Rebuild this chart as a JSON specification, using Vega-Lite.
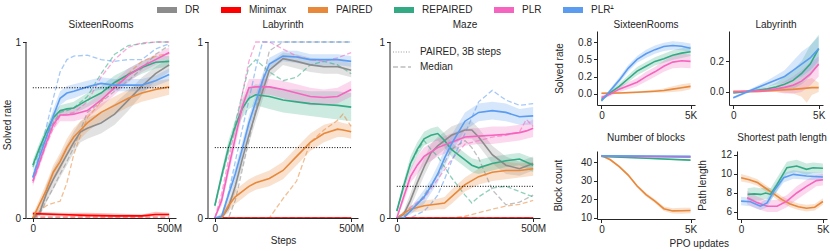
{
"$schema":"https://vega.github.io/schema/vega-lite/v6.json",
"padding":{"left":2,"top":0,"right":1,"bottom":1},
"config":{"font":"Liberation Sans","view":{"stroke":null},
 "axis":{"grid":false,"domainColor":"#262626","tickColor":"#262626","labelColor":"#262626","titleColor":"#262626","labelFontSize":10,"titleFontSize":10,"titleFontWeight":"normal","tickSize":3.5,"labelPadding":2,"titlePadding":3},
 "title":{"fontSize":10,"fontWeight":"normal","color":"#262626","anchor":"middle"},
 "legend":{"labelFontSize":10,"labelColor":"#262626","title":null,"labelFont":"Liberation Sans"}
},
"datasets":{
"rules":[{"p":"SR","PAIRED, 3B steps":0.74},{"p":"LAB","PAIRED, 3B steps":0.40},{"p":"MAZE","PAIRED, 3B steps":0.18}],
"main":[
{"p":"SR","m":"DR","x":0,"y":0,"lo":0,"hi":0.02,"Median":0},
{"p":"SR","m":"DR","x":25,"y":0.03,"lo":0.01,"hi":0.06,"Median":0.02},
{"p":"SR","m":"DR","x":50,"y":0.14,"lo":0.09,"hi":0.19,"Median":0.1},
{"p":"SR","m":"DR","x":75,"y":0.22,"lo":0.16,"hi":0.28,"Median":0.17},
{"p":"SR","m":"DR","x":100,"y":0.29,"lo":0.23,"hi":0.35,"Median":0.25},
{"p":"SR","m":"DR","x":125,"y":0.36,"lo":0.3,"hi":0.42,"Median":0.32},
{"p":"SR","m":"DR","x":150,"y":0.43,"lo":0.37,"hi":0.49,"Median":0.4},
{"p":"SR","m":"DR","x":175,"y":0.49,"lo":0.43,"hi":0.55,"Median":0.5},
{"p":"SR","m":"DR","x":200,"y":0.51,"lo":0.45,"hi":0.57,"Median":0.6},
{"p":"SR","m":"DR","x":250,"y":0.54,"lo":0.48,"hi":0.6,"Median":0.66},
{"p":"SR","m":"DR","x":300,"y":0.59,"lo":0.53,"hi":0.65,"Median":0.72},
{"p":"SR","m":"DR","x":350,"y":0.67,"lo":0.61,"hi":0.72,"Median":0.78},
{"p":"SR","m":"DR","x":400,"y":0.75,"lo":0.7,"hi":0.8,"Median":0.85},
{"p":"SR","m":"DR","x":450,"y":0.82,"lo":0.78,"hi":0.86,"Median":0.93},
{"p":"SR","m":"DR","x":500,"y":0.87,"lo":0.83,"hi":0.91,"Median":0.98},
{"p":"SR","m":"Minimax","x":0,"y":0.025,"lo":0.015,"hi":0.035,"Median":0.005},
{"p":"SR","m":"Minimax","x":100,"y":0.02,"lo":0.01,"hi":0.03,"Median":0.005},
{"p":"SR","m":"Minimax","x":200,"y":0.015,"lo":0.005,"hi":0.03,"Median":0.005},
{"p":"SR","m":"Minimax","x":300,"y":0.012,"lo":0.003,"hi":0.025,"Median":0.005},
{"p":"SR","m":"Minimax","x":400,"y":0.012,"lo":0.003,"hi":0.02,"Median":0.005},
{"p":"SR","m":"Minimax","x":450,"y":0.02,"lo":0.01,"hi":0.035,"Median":0.005},
{"p":"SR","m":"Minimax","x":500,"y":0.02,"lo":0.01,"hi":0.03,"Median":0.005},
{"p":"SR","m":"PAIRED","x":0,"y":0,"lo":0,"hi":0.02,"Median":0},
{"p":"SR","m":"PAIRED","x":25,"y":0.08,"lo":0.05,"hi":0.11,"Median":0.04},
{"p":"SR","m":"PAIRED","x":50,"y":0.16,"lo":0.12,"hi":0.2,"Median":0.07},
{"p":"SR","m":"PAIRED","x":75,"y":0.26,"lo":0.21,"hi":0.3,"Median":0.085},
{"p":"SR","m":"PAIRED","x":100,"y":0.32,"lo":0.27,"hi":0.37,"Median":0.095},
{"p":"SR","m":"PAIRED","x":125,"y":0.4,"lo":0.35,"hi":0.45,"Median":0.2},
{"p":"SR","m":"PAIRED","x":150,"y":0.46,"lo":0.41,"hi":0.51,"Median":0.36},
{"p":"SR","m":"PAIRED","x":175,"y":0.5,"lo":0.45,"hi":0.55,"Median":0.47},
{"p":"SR","m":"PAIRED","x":200,"y":0.54,"lo":0.49,"hi":0.59,"Median":0.57},
{"p":"SR","m":"PAIRED","x":250,"y":0.6,"lo":0.55,"hi":0.65,"Median":0.66},
{"p":"SR","m":"PAIRED","x":300,"y":0.64,"lo":0.59,"hi":0.69,"Median":0.75},
{"p":"SR","m":"PAIRED","x":350,"y":0.68,"lo":0.63,"hi":0.73,"Median":0.82},
{"p":"SR","m":"PAIRED","x":400,"y":0.71,"lo":0.66,"hi":0.76,"Median":0.89},
{"p":"SR","m":"PAIRED","x":450,"y":0.73,"lo":0.68,"hi":0.78,"Median":0.92},
{"p":"SR","m":"PAIRED","x":500,"y":0.745,"lo":0.7,"hi":0.79,"Median":0.935},
{"p":"SR","m":"REPAIRED","x":0,"y":0.3,"lo":0.27,"hi":0.33,"Median":0.29},
{"p":"SR","m":"REPAIRED","x":25,"y":0.4,"lo":0.37,"hi":0.43,"Median":0.38},
{"p":"SR","m":"REPAIRED","x":50,"y":0.49,"lo":0.46,"hi":0.52,"Median":0.46},
{"p":"SR","m":"REPAIRED","x":75,"y":0.57,"lo":0.54,"hi":0.6,"Median":0.54},
{"p":"SR","m":"REPAIRED","x":100,"y":0.61,"lo":0.58,"hi":0.64,"Median":0.6},
{"p":"SR","m":"REPAIRED","x":125,"y":0.62,"lo":0.59,"hi":0.65,"Median":0.61},
{"p":"SR","m":"REPAIRED","x":150,"y":0.625,"lo":0.59,"hi":0.66,"Median":0.625},
{"p":"SR","m":"REPAIRED","x":200,"y":0.67,"lo":0.63,"hi":0.71,"Median":0.69},
{"p":"SR","m":"REPAIRED","x":250,"y":0.71,"lo":0.67,"hi":0.75,"Median":0.82},
{"p":"SR","m":"REPAIRED","x":300,"y":0.77,"lo":0.73,"hi":0.81,"Median":0.93},
{"p":"SR","m":"REPAIRED","x":350,"y":0.815,"lo":0.78,"hi":0.85,"Median":0.98},
{"p":"SR","m":"REPAIRED","x":400,"y":0.855,"lo":0.82,"hi":0.89,"Median":0.99},
{"p":"SR","m":"REPAIRED","x":450,"y":0.885,"lo":0.85,"hi":0.92,"Median":1},
{"p":"SR","m":"REPAIRED","x":500,"y":0.89,"lo":0.86,"hi":0.92,"Median":1},
{"p":"SR","m":"PLR","x":0,"y":0.21,"lo":0.18,"hi":0.24,"Median":0.2},
{"p":"SR","m":"PLR","x":25,"y":0.32,"lo":0.29,"hi":0.35,"Median":0.31},
{"p":"SR","m":"PLR","x":50,"y":0.43,"lo":0.4,"hi":0.46,"Median":0.42},
{"p":"SR","m":"PLR","x":75,"y":0.53,"lo":0.5,"hi":0.56,"Median":0.51},
{"p":"SR","m":"PLR","x":100,"y":0.585,"lo":0.55,"hi":0.62,"Median":0.58},
{"p":"SR","m":"PLR","x":125,"y":0.585,"lo":0.55,"hi":0.62,"Median":0.59},
{"p":"SR","m":"PLR","x":150,"y":0.59,"lo":0.55,"hi":0.63,"Median":0.6},
{"p":"SR","m":"PLR","x":200,"y":0.61,"lo":0.57,"hi":0.65,"Median":0.66},
{"p":"SR","m":"PLR","x":250,"y":0.67,"lo":0.63,"hi":0.71,"Median":0.8},
{"p":"SR","m":"PLR","x":300,"y":0.74,"lo":0.7,"hi":0.78,"Median":0.9},
{"p":"SR","m":"PLR","x":350,"y":0.81,"lo":0.77,"hi":0.85,"Median":0.97},
{"p":"SR","m":"PLR","x":400,"y":0.86,"lo":0.83,"hi":0.89,"Median":0.995},
{"p":"SR","m":"PLR","x":450,"y":0.9,"lo":0.87,"hi":0.93,"Median":1},
{"p":"SR","m":"PLR","x":500,"y":0.94,"lo":0.91,"hi":0.97,"Median":1},
{"p":"SR","m":"PLRᗮ","x":0,"y":0.23,"lo":0.2,"hi":0.26,"Median":0.23},
{"p":"SR","m":"PLRᗮ","x":25,"y":0.35,"lo":0.32,"hi":0.38,"Median":0.37},
{"p":"SR","m":"PLRᗮ","x":50,"y":0.46,"lo":0.43,"hi":0.5,"Median":0.52},
{"p":"SR","m":"PLRᗮ","x":75,"y":0.58,"lo":0.54,"hi":0.62,"Median":0.68},
{"p":"SR","m":"PLRᗮ","x":100,"y":0.68,"lo":0.64,"hi":0.72,"Median":0.83},
{"p":"SR","m":"PLRᗮ","x":125,"y":0.71,"lo":0.67,"hi":0.75,"Median":0.9},
{"p":"SR","m":"PLRᗮ","x":150,"y":0.72,"lo":0.68,"hi":0.76,"Median":0.92},
{"p":"SR","m":"PLRᗮ","x":200,"y":0.745,"lo":0.71,"hi":0.78,"Median":0.925},
{"p":"SR","m":"PLRᗮ","x":250,"y":0.765,"lo":0.73,"hi":0.8,"Median":0.9},
{"p":"SR","m":"PLRᗮ","x":300,"y":0.755,"lo":0.72,"hi":0.79,"Median":0.89},
{"p":"SR","m":"PLRᗮ","x":350,"y":0.755,"lo":0.72,"hi":0.79,"Median":0.9},
{"p":"SR","m":"PLRᗮ","x":400,"y":0.755,"lo":0.72,"hi":0.79,"Median":0.9},
{"p":"SR","m":"PLRᗮ","x":450,"y":0.78,"lo":0.75,"hi":0.81,"Median":0.96},
{"p":"SR","m":"PLRᗮ","x":500,"y":0.815,"lo":0.78,"hi":0.85,"Median":0.99},
{"p":"LAB","m":"DR","x":0,"y":0,"lo":0,"hi":0,"Median":0},
{"p":"LAB","m":"DR","x":25,"y":0,"lo":0,"hi":0.01,"Median":0},
{"p":"LAB","m":"DR","x":50,"y":0.06,"lo":0.03,"hi":0.09,"Median":0},
{"p":"LAB","m":"DR","x":75,"y":0.18,"lo":0.14,"hi":0.22,"Median":0.1},
{"p":"LAB","m":"DR","x":100,"y":0.33,"lo":0.28,"hi":0.38,"Median":0.27},
{"p":"LAB","m":"DR","x":125,"y":0.47,"lo":0.42,"hi":0.52,"Median":0.44},
{"p":"LAB","m":"DR","x":150,"y":0.6,"lo":0.55,"hi":0.65,"Median":0.61},
{"p":"LAB","m":"DR","x":175,"y":0.72,"lo":0.67,"hi":0.77,"Median":0.78},
{"p":"LAB","m":"DR","x":200,"y":0.84,"lo":0.8,"hi":0.88,"Median":0.95},
{"p":"LAB","m":"DR","x":250,"y":0.905,"lo":0.87,"hi":0.94,"Median":1},
{"p":"LAB","m":"DR","x":300,"y":0.89,"lo":0.85,"hi":0.93,"Median":1},
{"p":"LAB","m":"DR","x":350,"y":0.87,"lo":0.83,"hi":0.91,"Median":1},
{"p":"LAB","m":"DR","x":400,"y":0.86,"lo":0.82,"hi":0.9,"Median":1},
{"p":"LAB","m":"DR","x":450,"y":0.86,"lo":0.82,"hi":0.9,"Median":1},
{"p":"LAB","m":"DR","x":500,"y":0.84,"lo":0.8,"hi":0.88,"Median":1},
{"p":"LAB","m":"Minimax","x":0,"y":0,"lo":0,"hi":0.004,"Median":0},
{"p":"LAB","m":"Minimax","x":500,"y":0,"lo":0,"hi":0.004,"Median":0},
{"p":"LAB","m":"PAIRED","x":0,"y":0,"lo":0,"hi":0,"Median":0},
{"p":"LAB","m":"PAIRED","x":25,"y":0,"lo":0,"hi":0.02,"Median":0},
{"p":"LAB","m":"PAIRED","x":50,"y":0.07,"lo":0.04,"hi":0.1,"Median":0},
{"p":"LAB","m":"PAIRED","x":75,"y":0.12,"lo":0.08,"hi":0.16,"Median":0},
{"p":"LAB","m":"PAIRED","x":100,"y":0.15,"lo":0.11,"hi":0.19,"Median":0},
{"p":"LAB","m":"PAIRED","x":125,"y":0.18,"lo":0.14,"hi":0.22,"Median":0},
{"p":"LAB","m":"PAIRED","x":150,"y":0.2,"lo":0.16,"hi":0.24,"Median":0},
{"p":"LAB","m":"PAIRED","x":200,"y":0.225,"lo":0.18,"hi":0.27,"Median":0},
{"p":"LAB","m":"PAIRED","x":250,"y":0.27,"lo":0.22,"hi":0.32,"Median":0.11},
{"p":"LAB","m":"PAIRED","x":300,"y":0.35,"lo":0.3,"hi":0.4,"Median":0.21},
{"p":"LAB","m":"PAIRED","x":350,"y":0.43,"lo":0.38,"hi":0.48,"Median":0.43},
{"p":"LAB","m":"PAIRED","x":400,"y":0.48,"lo":0.43,"hi":0.53,"Median":0.5},
{"p":"LAB","m":"PAIRED","x":450,"y":0.505,"lo":0.46,"hi":0.55,"Median":0.555},
{"p":"LAB","m":"PAIRED","x":470,"y":0.5,"lo":0.46,"hi":0.54,"Median":0.59},
{"p":"LAB","m":"PAIRED","x":500,"y":0.49,"lo":0.45,"hi":0.53,"Median":0.52},
{"p":"LAB","m":"REPAIRED","x":0,"y":0.07,"lo":0.05,"hi":0.09,"Median":0.07},
{"p":"LAB","m":"REPAIRED","x":25,"y":0.24,"lo":0.21,"hi":0.27,"Median":0.23},
{"p":"LAB","m":"REPAIRED","x":50,"y":0.4,"lo":0.36,"hi":0.44,"Median":0.38},
{"p":"LAB","m":"REPAIRED","x":75,"y":0.52,"lo":0.48,"hi":0.56,"Median":0.54},
{"p":"LAB","m":"REPAIRED","x":100,"y":0.62,"lo":0.57,"hi":0.67,"Median":0.7},
{"p":"LAB","m":"REPAIRED","x":125,"y":0.68,"lo":0.62,"hi":0.74,"Median":0.86},
{"p":"LAB","m":"REPAIRED","x":150,"y":0.7,"lo":0.64,"hi":0.76,"Median":0.9},
{"p":"LAB","m":"REPAIRED","x":200,"y":0.69,"lo":0.62,"hi":0.75,"Median":0.83},
{"p":"LAB","m":"REPAIRED","x":250,"y":0.67,"lo":0.6,"hi":0.73,"Median":0.78},
{"p":"LAB","m":"REPAIRED","x":300,"y":0.66,"lo":0.59,"hi":0.73,"Median":0.8},
{"p":"LAB","m":"REPAIRED","x":350,"y":0.65,"lo":0.58,"hi":0.72,"Median":0.87},
{"p":"LAB","m":"REPAIRED","x":400,"y":0.645,"lo":0.57,"hi":0.72,"Median":0.89},
{"p":"LAB","m":"REPAIRED","x":450,"y":0.64,"lo":0.56,"hi":0.72,"Median":0.87},
{"p":"LAB","m":"REPAIRED","x":500,"y":0.63,"lo":0.55,"hi":0.71,"Median":0.82},
{"p":"LAB","m":"PLR","x":0,"y":0,"lo":0,"hi":0,"Median":0},
{"p":"LAB","m":"PLR","x":25,"y":0.1,"lo":0.07,"hi":0.13,"Median":0.14},
{"p":"LAB","m":"PLR","x":50,"y":0.28,"lo":0.24,"hi":0.32,"Median":0.33},
{"p":"LAB","m":"PLR","x":75,"y":0.455,"lo":0.41,"hi":0.5,"Median":0.51},
{"p":"LAB","m":"PLR","x":100,"y":0.63,"lo":0.58,"hi":0.68,"Median":0.7},
{"p":"LAB","m":"PLR","x":125,"y":0.74,"lo":0.69,"hi":0.79,"Median":0.89},
{"p":"LAB","m":"PLR","x":150,"y":0.745,"lo":0.7,"hi":0.79,"Median":1},
{"p":"LAB","m":"PLR","x":200,"y":0.745,"lo":0.7,"hi":0.79,"Median":1},
{"p":"LAB","m":"PLR","x":250,"y":0.73,"lo":0.68,"hi":0.78,"Median":0.96},
{"p":"LAB","m":"PLR","x":300,"y":0.71,"lo":0.66,"hi":0.76,"Median":0.92},
{"p":"LAB","m":"PLR","x":350,"y":0.69,"lo":0.64,"hi":0.74,"Median":0.9},
{"p":"LAB","m":"PLR","x":400,"y":0.685,"lo":0.64,"hi":0.73,"Median":0.89},
{"p":"LAB","m":"PLR","x":450,"y":0.69,"lo":0.65,"hi":0.74,"Median":0.91},
{"p":"LAB","m":"PLR","x":500,"y":0.73,"lo":0.69,"hi":0.78,"Median":0.94},
{"p":"LAB","m":"PLRᗮ","x":0,"y":0,"lo":0,"hi":0,"Median":0},
{"p":"LAB","m":"PLRᗮ","x":25,"y":0.01,"lo":0,"hi":0.03,"Median":0},
{"p":"LAB","m":"PLRᗮ","x":50,"y":0.13,"lo":0.1,"hi":0.16,"Median":0.14},
{"p":"LAB","m":"PLRᗮ","x":75,"y":0.25,"lo":0.21,"hi":0.29,"Median":0.32},
{"p":"LAB","m":"PLRᗮ","x":100,"y":0.39,"lo":0.35,"hi":0.43,"Median":0.5},
{"p":"LAB","m":"PLRᗮ","x":125,"y":0.54,"lo":0.5,"hi":0.58,"Median":0.67},
{"p":"LAB","m":"PLRᗮ","x":150,"y":0.66,"lo":0.62,"hi":0.7,"Median":0.85},
{"p":"LAB","m":"PLRᗮ","x":175,"y":0.78,"lo":0.74,"hi":0.82,"Median":1},
{"p":"LAB","m":"PLRᗮ","x":200,"y":0.875,"lo":0.84,"hi":0.91,"Median":1},
{"p":"LAB","m":"PLRᗮ","x":250,"y":0.92,"lo":0.89,"hi":0.95,"Median":1},
{"p":"LAB","m":"PLRᗮ","x":300,"y":0.915,"lo":0.88,"hi":0.95,"Median":1},
{"p":"LAB","m":"PLRᗮ","x":350,"y":0.9,"lo":0.87,"hi":0.93,"Median":1},
{"p":"LAB","m":"PLRᗮ","x":400,"y":0.9,"lo":0.87,"hi":0.93,"Median":1},
{"p":"LAB","m":"PLRᗮ","x":450,"y":0.9,"lo":0.87,"hi":0.93,"Median":1},
{"p":"LAB","m":"PLRᗮ","x":500,"y":0.89,"lo":0.86,"hi":0.92,"Median":1},
{"p":"MAZE","m":"DR","x":0,"y":0,"lo":0,"hi":0,"Median":0},
{"p":"MAZE","m":"DR","x":25,"y":0.02,"lo":0,"hi":0.04,"Median":0.01},
{"p":"MAZE","m":"DR","x":50,"y":0.1,"lo":0.06,"hi":0.14,"Median":0.04},
{"p":"MAZE","m":"DR","x":75,"y":0.2,"lo":0.15,"hi":0.25,"Median":0.08},
{"p":"MAZE","m":"DR","x":100,"y":0.29,"lo":0.24,"hi":0.34,"Median":0.13},
{"p":"MAZE","m":"DR","x":125,"y":0.37,"lo":0.32,"hi":0.42,"Median":0.19},
{"p":"MAZE","m":"DR","x":150,"y":0.41,"lo":0.36,"hi":0.46,"Median":0.24},
{"p":"MAZE","m":"DR","x":200,"y":0.47,"lo":0.42,"hi":0.52,"Median":0.39},
{"p":"MAZE","m":"DR","x":250,"y":0.5,"lo":0.45,"hi":0.55,"Median":0.44},
{"p":"MAZE","m":"DR","x":275,"y":0.5,"lo":0.45,"hi":0.55,"Median":0.4},
{"p":"MAZE","m":"DR","x":300,"y":0.46,"lo":0.41,"hi":0.51,"Median":0.34},
{"p":"MAZE","m":"DR","x":350,"y":0.36,"lo":0.31,"hi":0.41,"Median":0.16},
{"p":"MAZE","m":"DR","x":400,"y":0.3,"lo":0.25,"hi":0.35,"Median":0.075},
{"p":"MAZE","m":"DR","x":450,"y":0.28,"lo":0.24,"hi":0.32,"Median":0.09},
{"p":"MAZE","m":"DR","x":500,"y":0.31,"lo":0.27,"hi":0.35,"Median":0.13},
{"p":"MAZE","m":"Minimax","x":0,"y":0,"lo":0,"hi":0.004,"Median":0},
{"p":"MAZE","m":"Minimax","x":500,"y":0,"lo":0,"hi":0.004,"Median":0},
{"p":"MAZE","m":"PAIRED","x":0,"y":0,"lo":0,"hi":0,"Median":0},
{"p":"MAZE","m":"PAIRED","x":50,"y":0.05,"lo":0.03,"hi":0.07,"Median":0},
{"p":"MAZE","m":"PAIRED","x":100,"y":0.07,"lo":0.04,"hi":0.1,"Median":0},
{"p":"MAZE","m":"PAIRED","x":150,"y":0.08,"lo":0.05,"hi":0.11,"Median":0},
{"p":"MAZE","m":"PAIRED","x":175,"y":0.085,"lo":0.05,"hi":0.12,"Median":0},
{"p":"MAZE","m":"PAIRED","x":200,"y":0.12,"lo":0.08,"hi":0.16,"Median":0},
{"p":"MAZE","m":"PAIRED","x":250,"y":0.19,"lo":0.15,"hi":0.23,"Median":0.01},
{"p":"MAZE","m":"PAIRED","x":300,"y":0.235,"lo":0.19,"hi":0.28,"Median":0.03},
{"p":"MAZE","m":"PAIRED","x":350,"y":0.26,"lo":0.21,"hi":0.31,"Median":0.05},
{"p":"MAZE","m":"PAIRED","x":400,"y":0.27,"lo":0.22,"hi":0.32,"Median":0.068},
{"p":"MAZE","m":"PAIRED","x":450,"y":0.27,"lo":0.23,"hi":0.31,"Median":0.078},
{"p":"MAZE","m":"PAIRED","x":500,"y":0.28,"lo":0.24,"hi":0.32,"Median":0.1},
{"p":"MAZE","m":"REPAIRED","x":0,"y":0.04,"lo":0.02,"hi":0.06,"Median":0.04},
{"p":"MAZE","m":"REPAIRED","x":25,"y":0.18,"lo":0.15,"hi":0.21,"Median":0.18},
{"p":"MAZE","m":"REPAIRED","x":50,"y":0.31,"lo":0.27,"hi":0.35,"Median":0.31},
{"p":"MAZE","m":"REPAIRED","x":75,"y":0.39,"lo":0.35,"hi":0.43,"Median":0.38},
{"p":"MAZE","m":"REPAIRED","x":100,"y":0.45,"lo":0.41,"hi":0.49,"Median":0.44},
{"p":"MAZE","m":"REPAIRED","x":125,"y":0.47,"lo":0.43,"hi":0.51,"Median":0.39},
{"p":"MAZE","m":"REPAIRED","x":150,"y":0.48,"lo":0.44,"hi":0.52,"Median":0.35},
{"p":"MAZE","m":"REPAIRED","x":175,"y":0.44,"lo":0.4,"hi":0.48,"Median":0.29},
{"p":"MAZE","m":"REPAIRED","x":200,"y":0.39,"lo":0.35,"hi":0.43,"Median":0.23},
{"p":"MAZE","m":"REPAIRED","x":250,"y":0.33,"lo":0.29,"hi":0.37,"Median":0.13},
{"p":"MAZE","m":"REPAIRED","x":275,"y":0.3,"lo":0.26,"hi":0.34,"Median":0.085},
{"p":"MAZE","m":"REPAIRED","x":300,"y":0.285,"lo":0.25,"hi":0.33,"Median":0.12},
{"p":"MAZE","m":"REPAIRED","x":350,"y":0.31,"lo":0.27,"hi":0.35,"Median":0.17},
{"p":"MAZE","m":"REPAIRED","x":400,"y":0.325,"lo":0.29,"hi":0.36,"Median":0.18},
{"p":"MAZE","m":"REPAIRED","x":450,"y":0.335,"lo":0.3,"hi":0.37,"Median":0.15},
{"p":"MAZE","m":"REPAIRED","x":500,"y":0.3,"lo":0.26,"hi":0.34,"Median":0.12},
{"p":"MAZE","m":"PLR","x":0,"y":0,"lo":0,"hi":0,"Median":0},
{"p":"MAZE","m":"PLR","x":25,"y":0.12,"lo":0.09,"hi":0.15,"Median":0.03},
{"p":"MAZE","m":"PLR","x":50,"y":0.235,"lo":0.2,"hi":0.28,"Median":0.06},
{"p":"MAZE","m":"PLR","x":75,"y":0.3,"lo":0.25,"hi":0.35,"Median":0.09},
{"p":"MAZE","m":"PLR","x":100,"y":0.35,"lo":0.3,"hi":0.4,"Median":0.11},
{"p":"MAZE","m":"PLR","x":150,"y":0.4,"lo":0.35,"hi":0.45,"Median":0.22},
{"p":"MAZE","m":"PLR","x":200,"y":0.43,"lo":0.38,"hi":0.48,"Median":0.33},
{"p":"MAZE","m":"PLR","x":250,"y":0.46,"lo":0.41,"hi":0.51,"Median":0.42},
{"p":"MAZE","m":"PLR","x":300,"y":0.465,"lo":0.42,"hi":0.51,"Median":0.44},
{"p":"MAZE","m":"PLR","x":350,"y":0.47,"lo":0.42,"hi":0.52,"Median":0.46},
{"p":"MAZE","m":"PLR","x":400,"y":0.475,"lo":0.43,"hi":0.52,"Median":0.47},
{"p":"MAZE","m":"PLR","x":450,"y":0.485,"lo":0.44,"hi":0.53,"Median":0.49},
{"p":"MAZE","m":"PLR","x":475,"y":0.495,"lo":0.45,"hi":0.54,"Median":0.56},
{"p":"MAZE","m":"PLR","x":500,"y":0.51,"lo":0.46,"hi":0.56,"Median":0.52},
{"p":"MAZE","m":"PLRᗮ","x":0,"y":0,"lo":0,"hi":0,"Median":0},
{"p":"MAZE","m":"PLRᗮ","x":25,"y":0,"lo":0,"hi":0.01,"Median":0},
{"p":"MAZE","m":"PLRᗮ","x":50,"y":0.04,"lo":0.02,"hi":0.06,"Median":0},
{"p":"MAZE","m":"PLRᗮ","x":75,"y":0.08,"lo":0.05,"hi":0.11,"Median":0.02},
{"p":"MAZE","m":"PLRᗮ","x":100,"y":0.12,"lo":0.08,"hi":0.16,"Median":0.04},
{"p":"MAZE","m":"PLRᗮ","x":125,"y":0.18,"lo":0.14,"hi":0.22,"Median":0.08},
{"p":"MAZE","m":"PLRᗮ","x":150,"y":0.25,"lo":0.2,"hi":0.3,"Median":0.13},
{"p":"MAZE","m":"PLRᗮ","x":175,"y":0.34,"lo":0.29,"hi":0.39,"Median":0.22},
{"p":"MAZE","m":"PLRᗮ","x":200,"y":0.42,"lo":0.37,"hi":0.47,"Median":0.32},
{"p":"MAZE","m":"PLRᗮ","x":250,"y":0.55,"lo":0.5,"hi":0.6,"Median":0.48},
{"p":"MAZE","m":"PLRᗮ","x":300,"y":0.6,"lo":0.55,"hi":0.65,"Median":0.66},
{"p":"MAZE","m":"PLRᗮ","x":350,"y":0.61,"lo":0.56,"hi":0.66,"Median":0.725},
{"p":"MAZE","m":"PLRᗮ","x":400,"y":0.6,"lo":0.55,"hi":0.65,"Median":0.67},
{"p":"MAZE","m":"PLRᗮ","x":450,"y":0.575,"lo":0.53,"hi":0.62,"Median":0.64},
{"p":"MAZE","m":"PLRᗮ","x":500,"y":0.58,"lo":0.53,"hi":0.63,"Median":0.65},
{"p":"sSR","m":"PAIRED","x":0,"y":0.01,"lo":0,"hi":0.02},
{"p":"sSR","m":"PAIRED","x":1,"y":0.015,"lo":0,"hi":0.03},
{"p":"sSR","m":"PAIRED","x":2,"y":0.025,"lo":0.01,"hi":0.04},
{"p":"sSR","m":"PAIRED","x":3,"y":0.04,"lo":0.02,"hi":0.06},
{"p":"sSR","m":"PAIRED","x":3.5,"y":0.05,"lo":0.02,"hi":0.08},
{"p":"sSR","m":"PAIRED","x":4,"y":0.07,"lo":0.03,"hi":0.11},
{"p":"sSR","m":"PAIRED","x":4.5,"y":0.09,"lo":0.04,"hi":0.14},
{"p":"sSR","m":"PAIRED","x":5,"y":0.11,"lo":0.07,"hi":0.16},
{"p":"sSR","m":"REPAIRED","x":0,"y":-0.08,"lo":-0.1,"hi":-0.06},
{"p":"sSR","m":"REPAIRED","x":0.5,"y":0.02,"lo":-0.01,"hi":0.05},
{"p":"sSR","m":"REPAIRED","x":1,"y":0.11,"lo":0.07,"hi":0.15},
{"p":"sSR","m":"REPAIRED","x":1.5,"y":0.22,"lo":0.17,"hi":0.27},
{"p":"sSR","m":"REPAIRED","x":2,"y":0.33,"lo":0.27,"hi":0.39},
{"p":"sSR","m":"REPAIRED","x":2.5,"y":0.4,"lo":0.34,"hi":0.46},
{"p":"sSR","m":"REPAIRED","x":3,"y":0.47,"lo":0.41,"hi":0.53},
{"p":"sSR","m":"REPAIRED","x":3.5,"y":0.51,"lo":0.45,"hi":0.58},
{"p":"sSR","m":"REPAIRED","x":4,"y":0.56,"lo":0.49,"hi":0.63},
{"p":"sSR","m":"REPAIRED","x":4.5,"y":0.59,"lo":0.52,"hi":0.66},
{"p":"sSR","m":"REPAIRED","x":5,"y":0.61,"lo":0.55,"hi":0.69},
{"p":"sSR","m":"PLR","x":0,"y":-0.05,"lo":-0.08,"hi":-0.02},
{"p":"sSR","m":"PLR","x":0.5,"y":0,"lo":-0.03,"hi":0.03},
{"p":"sSR","m":"PLR","x":1,"y":0.07,"lo":0.03,"hi":0.11},
{"p":"sSR","m":"PLR","x":1.5,"y":0.12,"lo":0.07,"hi":0.17},
{"p":"sSR","m":"PLR","x":2,"y":0.17,"lo":0.11,"hi":0.23},
{"p":"sSR","m":"PLR","x":2.5,"y":0.25,"lo":0.18,"hi":0.32},
{"p":"sSR","m":"PLR","x":3,"y":0.32,"lo":0.25,"hi":0.39},
{"p":"sSR","m":"PLR","x":3.5,"y":0.4,"lo":0.32,"hi":0.48},
{"p":"sSR","m":"PLR","x":4,"y":0.46,"lo":0.37,"hi":0.55},
{"p":"sSR","m":"PLR","x":4.5,"y":0.48,"lo":0.38,"hi":0.58},
{"p":"sSR","m":"PLR","x":5,"y":0.47,"lo":0.37,"hi":0.57},
{"p":"sSR","m":"PLRᗮ","x":0,"y":-0.1,"lo":-0.12,"hi":-0.08},
{"p":"sSR","m":"PLRᗮ","x":0.5,"y":0.05,"lo":0.02,"hi":0.08},
{"p":"sSR","m":"PLRᗮ","x":1,"y":0.2,"lo":0.16,"hi":0.24},
{"p":"sSR","m":"PLRᗮ","x":1.5,"y":0.37,"lo":0.32,"hi":0.42},
{"p":"sSR","m":"PLRᗮ","x":2,"y":0.5,"lo":0.45,"hi":0.55},
{"p":"sSR","m":"PLRᗮ","x":2.5,"y":0.58,"lo":0.52,"hi":0.64},
{"p":"sSR","m":"PLRᗮ","x":3,"y":0.64,"lo":0.58,"hi":0.7},
{"p":"sSR","m":"PLRᗮ","x":3.5,"y":0.685,"lo":0.62,"hi":0.74},
{"p":"sSR","m":"PLRᗮ","x":4,"y":0.7,"lo":0.64,"hi":0.76},
{"p":"sSR","m":"PLRᗮ","x":4.5,"y":0.69,"lo":0.63,"hi":0.75},
{"p":"sSR","m":"PLRᗮ","x":5,"y":0.66,"lo":0.6,"hi":0.73},
{"p":"sLAB","m":"PAIRED","x":0,"y":0.004,"lo":0,"hi":0.008},
{"p":"sLAB","m":"PAIRED","x":1.5,"y":0.004,"lo":0,"hi":0.01},
{"p":"sLAB","m":"PAIRED","x":2.5,"y":0.011,"lo":0,"hi":0.02},
{"p":"sLAB","m":"PAIRED","x":3.5,"y":0.017,"lo":-0.01,"hi":0.05},
{"p":"sLAB","m":"PAIRED","x":4,"y":0.022,"lo":-0.03,"hi":0.06},
{"p":"sLAB","m":"PAIRED","x":4.3,"y":0.025,"lo":-0.07,"hi":0.08},
{"p":"sLAB","m":"PAIRED","x":4.6,"y":0.028,"lo":-0.02,"hi":0.09},
{"p":"sLAB","m":"PAIRED","x":5,"y":0.028,"lo":0,"hi":0.06},
{"p":"sLAB","m":"REPAIRED","x":0,"y":-0.006,"lo":-0.01,"hi":0},
{"p":"sLAB","m":"REPAIRED","x":1,"y":0.005,"lo":-0.005,"hi":0.015},
{"p":"sLAB","m":"REPAIRED","x":2,"y":0.02,"lo":0.005,"hi":0.035},
{"p":"sLAB","m":"REPAIRED","x":2.5,"y":0.032,"lo":0.01,"hi":0.06},
{"p":"sLAB","m":"REPAIRED","x":3,"y":0.05,"lo":0.01,"hi":0.1},
{"p":"sLAB","m":"REPAIRED","x":3.5,"y":0.075,"lo":0.02,"hi":0.14},
{"p":"sLAB","m":"REPAIRED","x":4,"y":0.12,"lo":0.05,"hi":0.2},
{"p":"sLAB","m":"REPAIRED","x":4.5,"y":0.18,"lo":0.1,"hi":0.3},
{"p":"sLAB","m":"REPAIRED","x":5,"y":0.28,"lo":0.18,"hi":0.37},
{"p":"sLAB","m":"PLR","x":0,"y":0,"lo":-0.005,"hi":0.005},
{"p":"sLAB","m":"PLR","x":1,"y":0.005,"lo":-0.005,"hi":0.015},
{"p":"sLAB","m":"PLR","x":2,"y":0.012,"lo":0,"hi":0.025},
{"p":"sLAB","m":"PLR","x":2.5,"y":0.02,"lo":0,"hi":0.04},
{"p":"sLAB","m":"PLR","x":3,"y":0.03,"lo":-0.01,"hi":0.07},
{"p":"sLAB","m":"PLR","x":3.5,"y":0.043,"lo":-0.01,"hi":0.1},
{"p":"sLAB","m":"PLR","x":4,"y":0.07,"lo":0,"hi":0.14},
{"p":"sLAB","m":"PLR","x":4.5,"y":0.115,"lo":0.04,"hi":0.19},
{"p":"sLAB","m":"PLR","x":5,"y":0.18,"lo":0.1,"hi":0.23},
{"p":"sLAB","m":"PLRᗮ","x":0,"y":-0.037,"lo":-0.045,"hi":-0.03},
{"p":"sLAB","m":"PLRᗮ","x":1,"y":0.01,"lo":0,"hi":0.02},
{"p":"sLAB","m":"PLRᗮ","x":2,"y":0.055,"lo":0.035,"hi":0.075},
{"p":"sLAB","m":"PLRᗮ","x":3,"y":0.1,"lo":0.06,"hi":0.14},
{"p":"sLAB","m":"PLRᗮ","x":3.5,"y":0.14,"lo":0.08,"hi":0.2},
{"p":"sLAB","m":"PLRᗮ","x":4,"y":0.18,"lo":0.1,"hi":0.26},
{"p":"sLAB","m":"PLRᗮ","x":4.5,"y":0.22,"lo":0.14,"hi":0.3},
{"p":"sLAB","m":"PLRᗮ","x":5,"y":0.28,"lo":0.2,"hi":0.36},
{"p":"BLK","m":"PAIRED","x":0,"y":43.5,"lo":43,"hi":44},
{"p":"BLK","m":"PAIRED","x":0.5,"y":41.2,"lo":40.6,"hi":41.8},
{"p":"BLK","m":"PAIRED","x":1,"y":37.5,"lo":36.8,"hi":38.2},
{"p":"BLK","m":"PAIRED","x":1.5,"y":33,"lo":32.2,"hi":33.8},
{"p":"BLK","m":"PAIRED","x":2,"y":27.1,"lo":26.3,"hi":27.9},
{"p":"BLK","m":"PAIRED","x":2.5,"y":22.5,"lo":21.5,"hi":23.5},
{"p":"BLK","m":"PAIRED","x":3,"y":19,"lo":18,"hi":20},
{"p":"BLK","m":"PAIRED","x":3.5,"y":15,"lo":13.8,"hi":16.2},
{"p":"BLK","m":"PAIRED","x":4,"y":13.8,"lo":12.4,"hi":15.2},
{"p":"BLK","m":"PAIRED","x":4.5,"y":13.9,"lo":12.3,"hi":15.5},
{"p":"BLK","m":"PAIRED","x":5,"y":14,"lo":12.5,"hi":15.5},
{"p":"BLK","m":"REPAIRED","x":0,"y":43,"lo":42.7,"hi":43.3},
{"p":"BLK","m":"REPAIRED","x":2.5,"y":42,"lo":41.7,"hi":42.3},
{"p":"BLK","m":"REPAIRED","x":5,"y":41,"lo":40.6,"hi":41.4},
{"p":"BLK","m":"PLR","x":0,"y":43.2,"lo":42.9,"hi":43.5},
{"p":"BLK","m":"PLR","x":2.5,"y":42.9,"lo":42.6,"hi":43.2},
{"p":"BLK","m":"PLR","x":5,"y":42.6,"lo":42.3,"hi":42.9},
{"p":"BLK","m":"PLRᗮ","x":0,"y":43.3,"lo":43,"hi":43.6},
{"p":"BLK","m":"PLRᗮ","x":2.5,"y":43.2,"lo":42.9,"hi":43.5},
{"p":"BLK","m":"PLRᗮ","x":5,"y":43,"lo":42.7,"hi":43.3},
{"p":"PATH","m":"PAIRED","x":0,"y":9.6,"lo":9.2,"hi":10},
{"p":"PATH","m":"PAIRED","x":0.5,"y":9.4,"lo":9.05,"hi":9.75},
{"p":"PATH","m":"PAIRED","x":1,"y":9.1,"lo":8.75,"hi":9.45},
{"p":"PATH","m":"PAIRED","x":1.5,"y":8.5,"lo":8.15,"hi":8.85},
{"p":"PATH","m":"PAIRED","x":2,"y":7.9,"lo":7.55,"hi":8.25},
{"p":"PATH","m":"PAIRED","x":2.5,"y":7.3,"lo":6.95,"hi":7.65},
{"p":"PATH","m":"PAIRED","x":3,"y":6.85,"lo":6.5,"hi":7.2},
{"p":"PATH","m":"PAIRED","x":3.5,"y":6.55,"lo":6.2,"hi":6.9},
{"p":"PATH","m":"PAIRED","x":4,"y":6.4,"lo":6.05,"hi":6.75},
{"p":"PATH","m":"PAIRED","x":4.5,"y":6.5,"lo":6.15,"hi":6.85},
{"p":"PATH","m":"PAIRED","x":5,"y":7.1,"lo":6.75,"hi":7.45},
{"p":"PATH","m":"REPAIRED","x":0.4,"y":7.85,"lo":7.2,"hi":8.5},
{"p":"PATH","m":"REPAIRED","x":0.8,"y":7.9,"lo":7.2,"hi":8.6},
{"p":"PATH","m":"REPAIRED","x":1.2,"y":7.85,"lo":7.2,"hi":8.5},
{"p":"PATH","m":"REPAIRED","x":1.5,"y":8,"lo":7.4,"hi":8.6},
{"p":"PATH","m":"REPAIRED","x":1.8,"y":7.85,"lo":7.2,"hi":8.5},
{"p":"PATH","m":"REPAIRED","x":2.2,"y":8.9,"lo":8.2,"hi":9.6},
{"p":"PATH","m":"REPAIRED","x":2.8,"y":10.66,"lo":10,"hi":11.3},
{"p":"PATH","m":"REPAIRED","x":3.4,"y":10.84,"lo":10.2,"hi":11.5},
{"p":"PATH","m":"REPAIRED","x":4,"y":10.49,"lo":9.9,"hi":11.1},
{"p":"PATH","m":"REPAIRED","x":4.4,"y":10.66,"lo":10.1,"hi":11.2},
{"p":"PATH","m":"REPAIRED","x":5,"y":10.6,"lo":10.1,"hi":11.1},
{"p":"PATH","m":"PLR","x":0.37,"y":7.5,"lo":6.8,"hi":8.2},
{"p":"PATH","m":"PLR","x":1,"y":6.96,"lo":6.3,"hi":7.6},
{"p":"PATH","m":"PLR","x":1.6,"y":6.61,"lo":6,"hi":7.2},
{"p":"PATH","m":"PLR","x":2.2,"y":6.61,"lo":6,"hi":7.3},
{"p":"PATH","m":"PLR","x":2.8,"y":7.14,"lo":6.5,"hi":7.8},
{"p":"PATH","m":"PLR","x":3.4,"y":8,"lo":7.3,"hi":8.7},
{"p":"PATH","m":"PLR","x":4,"y":8.7,"lo":8,"hi":9.4},
{"p":"PATH","m":"PLR","x":4.6,"y":9.3,"lo":8.7,"hi":9.9},
{"p":"PATH","m":"PLR","x":5,"y":9.4,"lo":8.8,"hi":10},
{"p":"PATH","m":"PLRᗮ","x":0,"y":7.14,"lo":6.7,"hi":7.6},
{"p":"PATH","m":"PLRᗮ","x":0.57,"y":7.07,"lo":6.6,"hi":7.5},
{"p":"PATH","m":"PLRᗮ","x":1.18,"y":6.61,"lo":6.2,"hi":7},
{"p":"PATH","m":"PLRᗮ","x":1.59,"y":6.96,"lo":6.5,"hi":7.4},
{"p":"PATH","m":"PLRᗮ","x":2,"y":8.2,"lo":7.7,"hi":8.7},
{"p":"PATH","m":"PLRᗮ","x":2.6,"y":9.6,"lo":9.1,"hi":10.1},
{"p":"PATH","m":"PLRᗮ","x":3.2,"y":9.96,"lo":9.5,"hi":10.4},
{"p":"PATH","m":"PLRᗮ","x":4,"y":9.78,"lo":9.4,"hi":10.2},
{"p":"PATH","m":"PLRᗮ","x":5,"y":9.68,"lo":9.3,"hi":10.1}
]},
"spacing":7,
"resolve":{"legend":{"strokeDash":"independent"}},
"hconcat":[
{"spacing":14,"resolve":{"legend":{"strokeDash":"independent"}},"hconcat":[
{"width":150,"height":187,"title":{"text":"SixteenRooms","offset":1},
"layer":[
{"data":{"name":"main"},"transform":[{"filter":"datum.p==='SR'"}],"mark":{"type":"area","opacity":0.25,"clip":true},
"encoding":{"x":{"field":"x","type":"quantitative","title":null,"scale":{"domain":[-25,525],"nice":false,"zero":false},"axis":{"values":[0,500],"labelExpr":"datum.value==0?'0':'500M'"}},
"y":{"field":"lo","type":"quantitative","title":"Solved rate","scale":{"domain":[0,1.0625],"nice":false},"axis":{"values":[0,1],"format":"d","titlePadding":2,"domain":false}},
"y2":{"field":"hi"},
"color":{"field":"m","type":"nominal","scale":{"domain":["DR","Minimax","PAIRED","REPAIRED","PLR","PLRᗮ"],"range":["#8c8c8c","#ff0000","#e8883a","#33aa84","#f564be","#5b9cf0"]},
"legend":{"orient":"none","legendX":131,"legendY":-31,"direction":"horizontal","symbolType":"M-1,-0.3H1V0.3H-1Z","symbolSize":400,"symbolStrokeWidth":0,"symbolOpacity":1,"labelOffset":8,"columnPadding":21,"encode":{"symbols":{"update":{"fill":{"scale":"color","field":"value"},"stroke":{"value":"transparent"},"opacity":{"value":1}}}}}}}},
{"data":{"values":[{}]},"mark":{"type":"rule","color":"#262626","strokeWidth":1},
"encoding":{"x":{"datum":-25,"type":"quantitative"},"y":{"datum":0,"type":"quantitative"},"y2":{"datum":1}}},
{"data":{"name":"main"},"transform":[{"filter":"datum.p==='SR'"},{"fold":["Median"],"as":["k","v"]}],"mark":{"type":"line","strokeWidth":1.3,"opacity":0.55,"clip":true},
"encoding":{"x":{"field":"x","type":"quantitative","title":null},"y":{"field":"v","type":"quantitative","title":"Solved rate"},
"color":{"field":"m","type":"nominal","scale":{"domain":["DR","Minimax","PAIRED","REPAIRED","PLR","PLRᗮ"],"range":["#8c8c8c","#ff0000","#e8883a","#33aa84","#f564be","#5b9cf0"]}},
"strokeDash":{"field":"k","type":"nominal","scale":{"domain":["PAIRED, 3B steps","Median"],"range":[[1,1.6],[5,2.5]]},"legend":null}}},
{"data":{"name":"main"},"transform":[{"filter":"datum.p==='SR'"}],"mark":{"type":"line","strokeWidth":1.6,"clip":true},
"encoding":{"x":{"field":"x","type":"quantitative","title":null},"y":{"field":"y","type":"quantitative","title":"Solved rate"},
"color":{"field":"m","type":"nominal","scale":{"domain":["DR","Minimax","PAIRED","REPAIRED","PLR","PLRᗮ"],"range":["#8c8c8c","#ff0000","#e8883a","#33aa84","#f564be","#5b9cf0"]}}}},
{"data":{"name":"rules"},"transform":[{"filter":"datum.p==='SR'"},{"fold":["PAIRED, 3B steps"],"as":["k","v"]}],"mark":{"type":"rule","color":"#000000","strokeWidth":1},
"encoding":{"x":{"datum":0,"type":"quantitative"},"x2":{"datum":500},"y":{"field":"v","type":"quantitative","title":"Solved rate"},
"strokeDash":{"field":"k","type":"nominal","scale":{"domain":["PAIRED, 3B steps","Median"],"range":[[1,1.6],[5,2.5]]},"legend":null}}}
]},
{"width":150,"height":187,"title":{"text":"Labyrinth","offset":1},
"layer":[
{"data":{"name":"main"},"transform":[{"filter":"datum.p==='LAB'"}],"mark":{"type":"area","opacity":0.25,"clip":true},
"encoding":{"x":{"field":"x","type":"quantitative","title":"Steps","scale":{"domain":[-25,525],"nice":false,"zero":false},"axis":{"values":[0,500],"labelExpr":"datum.value==0?'0':'500M'","titlePadding":2}},
"y":{"field":"lo","type":"quantitative","title":null,"scale":{"domain":[0,1.0625],"nice":false},"axis":{"values":[0,1],"format":"d","domain":false}},
"y2":{"field":"hi"},
"color":{"field":"m","type":"nominal","scale":{"domain":["DR","Minimax","PAIRED","REPAIRED","PLR","PLRᗮ"],"range":["#8c8c8c","#ff0000","#e8883a","#33aa84","#f564be","#5b9cf0"]}}}},
{"data":{"values":[{}]},"mark":{"type":"rule","color":"#262626","strokeWidth":1},
"encoding":{"x":{"datum":-25,"type":"quantitative"},"y":{"datum":0,"type":"quantitative"},"y2":{"datum":1}}},
{"data":{"name":"main"},"transform":[{"filter":"datum.p==='LAB'"},{"fold":["Median"],"as":["k","v"]}],"mark":{"type":"line","strokeWidth":1.3,"opacity":0.55,"clip":true},
"encoding":{"x":{"field":"x","type":"quantitative","title":"Steps"},"y":{"field":"v","type":"quantitative","title":null},
"color":{"field":"m","type":"nominal","scale":{"domain":["DR","Minimax","PAIRED","REPAIRED","PLR","PLRᗮ"],"range":["#8c8c8c","#ff0000","#e8883a","#33aa84","#f564be","#5b9cf0"]}},
"strokeDash":{"field":"k","type":"nominal","scale":{"domain":["PAIRED, 3B steps","Median"],"range":[[1,1.6],[5,2.5]]},"legend":null}}},
{"data":{"name":"main"},"transform":[{"filter":"datum.p==='LAB'"}],"mark":{"type":"line","strokeWidth":1.6,"clip":true},
"encoding":{"x":{"field":"x","type":"quantitative","title":"Steps"},"y":{"field":"y","type":"quantitative","title":null},
"color":{"field":"m","type":"nominal","scale":{"domain":["DR","Minimax","PAIRED","REPAIRED","PLR","PLRᗮ"],"range":["#8c8c8c","#ff0000","#e8883a","#33aa84","#f564be","#5b9cf0"]}}}},
{"data":{"name":"rules"},"transform":[{"filter":"datum.p==='LAB'"},{"fold":["PAIRED, 3B steps"],"as":["k","v"]}],"mark":{"type":"rule","color":"#000000","strokeWidth":1},
"encoding":{"x":{"datum":0,"type":"quantitative"},"x2":{"datum":500},"y":{"field":"v","type":"quantitative","title":null},
"strokeDash":{"field":"k","type":"nominal","scale":{"domain":["PAIRED, 3B steps","Median"],"range":[[1,1.6],[5,2.5]]},"legend":null}}}
]},
{"width":150,"height":187,"title":{"text":"Maze","offset":1},
"layer":[
{"data":{"name":"main"},"transform":[{"filter":"datum.p==='MAZE'"}],"mark":{"type":"area","opacity":0.25,"clip":true},
"encoding":{"x":{"field":"x","type":"quantitative","title":null,"scale":{"domain":[-25,525],"nice":false,"zero":false},"axis":{"values":[0,500],"labelExpr":"datum.value==0?'0':'500M'"}},
"y":{"field":"lo","type":"quantitative","title":null,"scale":{"domain":[0,1.0625],"nice":false},"axis":{"values":[0,1],"format":"d","domain":false}},
"y2":{"field":"hi"},
"color":{"field":"m","type":"nominal","scale":{"domain":["DR","Minimax","PAIRED","REPAIRED","PLR","PLRᗮ"],"range":["#8c8c8c","#ff0000","#e8883a","#33aa84","#f564be","#5b9cf0"]}}}},
{"data":{"values":[{}]},"mark":{"type":"rule","color":"#262626","strokeWidth":1},
"encoding":{"x":{"datum":-25,"type":"quantitative"},"y":{"datum":0,"type":"quantitative"},"y2":{"datum":1}}},
{"data":{"name":"main"},"transform":[{"filter":"datum.p==='MAZE'"},{"fold":["Median"],"as":["k","v"]}],"mark":{"type":"line","strokeWidth":1.3,"opacity":0.55,"clip":true},
"encoding":{"x":{"field":"x","type":"quantitative","title":null},"y":{"field":"v","type":"quantitative","title":null},
"color":{"field":"m","type":"nominal","scale":{"domain":["DR","Minimax","PAIRED","REPAIRED","PLR","PLRᗮ"],"range":["#8c8c8c","#ff0000","#e8883a","#33aa84","#f564be","#5b9cf0"]}},
"strokeDash":{"field":"k","type":"nominal","scale":{"domain":["PAIRED, 3B steps","Median"],"range":[[1,1.6],[5,2.5]]},
"legend":{"orient":"none","legendX":2,"legendY":11,"title":null,"symbolType":"M-1,0H1","symbolSize":324,"symbolStrokeWidth":1.3,"labelFontSize":10,"rowPadding":0,"labelOffset":8,"encode":{"symbols":{"update":{"stroke":{"signal":"datum.value==='Median'?'#999999':'#000000'"},"fill":{"value":"transparent"},"opacity":{"value":1}}}}}}}},
{"data":{"name":"main"},"transform":[{"filter":"datum.p==='MAZE'"}],"mark":{"type":"line","strokeWidth":1.6,"clip":true},
"encoding":{"x":{"field":"x","type":"quantitative","title":null},"y":{"field":"y","type":"quantitative","title":null},
"color":{"field":"m","type":"nominal","scale":{"domain":["DR","Minimax","PAIRED","REPAIRED","PLR","PLRᗮ"],"range":["#8c8c8c","#ff0000","#e8883a","#33aa84","#f564be","#5b9cf0"]}}}},
{"data":{"name":"rules"},"transform":[{"filter":"datum.p==='MAZE'"},{"fold":["PAIRED, 3B steps"],"as":["k","v"]}],"mark":{"type":"rule","color":"#000000","strokeWidth":1},
"encoding":{"x":{"datum":0,"type":"quantitative"},"x2":{"datum":500},"y":{"field":"v","type":"quantitative","title":null},
"strokeDash":{"field":"k","type":"nominal","scale":{"domain":["PAIRED, 3B steps","Median"],"range":[[1,1.6],[5,2.5]]},
"legend":{"orient":"none","legendX":2,"legendY":11,"title":null,"symbolType":"M-1,0H1","symbolSize":324,"symbolStrokeWidth":1.3,"labelFontSize":10,"rowPadding":0,"labelOffset":8,"encode":{"symbols":{"update":{"stroke":{"signal":"datum.value==='Median'?'#999999':'#000000'"},"fill":{"value":"transparent"},"opacity":{"value":1}}}}}}}}
]}
]},
{"spacing":11,"title":{"text":"PPO updates","orient":"bottom","offset":4,"dx":8},
"vconcat":[
{"spacing":12,"hconcat":[
{"width":98,"height":74,"title":{"text":"SixteenRooms","offset":1},
"layer":[
{"data":{"name":"main"},"transform":[{"filter":"datum.p==='sSR'"}],"mark":{"type":"area","opacity":0.25,"clip":true},
"encoding":{"x":{"field":"x","type":"quantitative","title":null,"scale":{"domain":[-0.25,5.25],"nice":false,"zero":false},"axis":{"values":[0,5],"labelExpr":"datum.value==0?'0':'5K'"}},
"y":{"field":"lo","type":"quantitative","title":"Solved rate","scale":{"domain":[-0.159,0.909],"nice":false,"zero":false},"axis":{"values":[0,0.25,0.5,0.75],"tickCount":10,"labelOverlap":false,"labelExpr":"datum.value==0.25?'0.2':format(datum.value,'.1f')","titlePadding":13}},
"y2":{"field":"hi"},
"color":{"field":"m","type":"nominal","scale":{"domain":["DR","Minimax","PAIRED","REPAIRED","PLR","PLRᗮ"],"range":["#8c8c8c","#ff0000","#e8883a","#33aa84","#f564be","#5b9cf0"]}}}},
{"data":{"name":"main"},"transform":[{"filter":"datum.p==='sSR'"}],"mark":{"type":"line","strokeWidth":1.6,"clip":true},
"encoding":{"x":{"field":"x","type":"quantitative","title":null},"y":{"field":"y","type":"quantitative","title":"Solved rate"},
"color":{"field":"m","type":"nominal","scale":{"domain":["DR","Minimax","PAIRED","REPAIRED","PLR","PLRᗮ"],"range":["#8c8c8c","#ff0000","#e8883a","#33aa84","#f564be","#5b9cf0"]}}}}
]},
{"width":94,"height":74,"title":{"text":"Labyrinth","offset":1},
"layer":[
{"data":{"name":"main"},"transform":[{"filter":"datum.p==='sLAB'"}],"mark":{"type":"area","opacity":0.25,"clip":true},
"encoding":{"x":{"field":"x","type":"quantitative","title":null,"scale":{"domain":[-0.25,5.25],"nice":false,"zero":false},"axis":{"values":[0,5],"labelExpr":"datum.value==0?'0':'5K'"}},
"y":{"field":"lo","type":"quantitative","title":null,"scale":{"domain":[-0.084,0.394],"nice":false,"zero":false},"axis":{"values":[0,0.2],"format":".1f"}},
"y2":{"field":"hi"},
"color":{"field":"m","type":"nominal","scale":{"domain":["DR","Minimax","PAIRED","REPAIRED","PLR","PLRᗮ"],"range":["#8c8c8c","#ff0000","#e8883a","#33aa84","#f564be","#5b9cf0"]}}}},
{"data":{"name":"main"},"transform":[{"filter":"datum.p==='sLAB'"}],"mark":{"type":"line","strokeWidth":1.6,"clip":true},
"encoding":{"x":{"field":"x","type":"quantitative","title":null},"y":{"field":"y","type":"quantitative","title":null},
"color":{"field":"m","type":"nominal","scale":{"domain":["DR","Minimax","PAIRED","REPAIRED","PLR","PLRᗮ"],"range":["#8c8c8c","#ff0000","#e8883a","#33aa84","#f564be","#5b9cf0"]}}}}
]}
]},
{"spacing":0,"hconcat":[
{"width":98,"height":68,"title":{"text":"Number of blocks","offset":8},
"layer":[
{"data":{"name":"main"},"transform":[{"filter":"datum.p==='BLK'"}],"mark":{"type":"area","opacity":0.25,"clip":true},
"encoding":{"x":{"field":"x","type":"quantitative","title":null,"scale":{"domain":[-0.25,5.25],"nice":false,"zero":false},"axis":{"values":[0,5],"labelExpr":"datum.value==0?'0':'5K'"}},
"y":{"field":"lo","type":"quantitative","title":"Block count","scale":{"domain":[9.46,45.9],"nice":false,"zero":false},"axis":{"values":[10,20,30,40],"tickCount":10,"titlePadding":17,"labelOverlap":false}},
"y2":{"field":"hi"},
"color":{"field":"m","type":"nominal","scale":{"domain":["DR","Minimax","PAIRED","REPAIRED","PLR","PLRᗮ"],"range":["#8c8c8c","#ff0000","#e8883a","#33aa84","#f564be","#5b9cf0"]}}}},
{"data":{"name":"main"},"transform":[{"filter":"datum.p==='BLK'"}],"mark":{"type":"line","strokeWidth":1.6,"clip":true},
"encoding":{"x":{"field":"x","type":"quantitative","title":null},"y":{"field":"y","type":"quantitative","title":"Block count"},
"color":{"field":"m","type":"nominal","scale":{"domain":["DR","Minimax","PAIRED","REPAIRED","PLR","PLRᗮ"],"range":["#8c8c8c","#ff0000","#e8883a","#33aa84","#f564be","#5b9cf0"]}}}}
]},
{"width":90,"height":68,"title":{"text":"Shortest path length","offset":7},
"layer":[
{"data":{"name":"main"},"transform":[{"filter":"datum.p==='PATH'"}],"mark":{"type":"area","opacity":0.25,"clip":true},
"encoding":{"x":{"field":"x","type":"quantitative","title":null,"scale":{"domain":[-0.25,5.25],"nice":false,"zero":false},"axis":{"values":[0,5],"labelExpr":"datum.value==0?'0':'5K'"}},
"y":{"field":"lo","type":"quantitative","title":"Path length","scale":{"domain":[5.26,12.42],"nice":false,"zero":false},"axis":{"values":[6,8,10,12],"tickCount":10,"titlePadding":13,"labelOverlap":false}},
"y2":{"field":"hi"},
"color":{"field":"m","type":"nominal","scale":{"domain":["DR","Minimax","PAIRED","REPAIRED","PLR","PLRᗮ"],"range":["#8c8c8c","#ff0000","#e8883a","#33aa84","#f564be","#5b9cf0"]}}}},
{"data":{"name":"main"},"transform":[{"filter":"datum.p==='PATH'"}],"mark":{"type":"line","strokeWidth":1.6,"clip":true},
"encoding":{"x":{"field":"x","type":"quantitative","title":null},"y":{"field":"y","type":"quantitative","title":"Path length"},
"color":{"field":"m","type":"nominal","scale":{"domain":["DR","Minimax","PAIRED","REPAIRED","PLR","PLRᗮ"],"range":["#8c8c8c","#ff0000","#e8883a","#33aa84","#f564be","#5b9cf0"]}}}}
]}
]}
]}
]
}
